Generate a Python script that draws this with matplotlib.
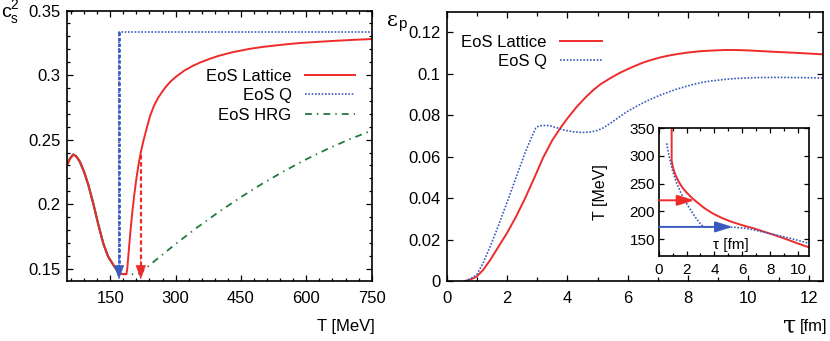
import matplotlib

matplotlib.use("Agg")

import matplotlib.pyplot as plt
from matplotlib.ticker import MultipleLocator

plt.rcParams["font.family"] = ["Liberation Sans", "DejaVu Sans"]
plt.rcParams["mathtext.fontset"] = "custom"
plt.rcParams["mathtext.rm"] = "Liberation Sans"

RED = "#ee2b2b"
BLUE = "#3a5bbd"
GREEN = "#1f7a3c"

# speed of sound squared vs T (shared hadronic part below Tc)
T_low = [50, 57, 65, 72, 80, 90, 100, 111, 122, 134, 145, 157, 165, 170]
cs_low = [0.2297, 0.235, 0.2385, 0.237, 0.233, 0.225, 0.2145, 0.2005, 0.185, 0.1695, 0.1595, 0.153, 0.149, 0.1466]

T_lat = [172, 180, 187, 189, 192, 196, 200, 205, 210, 215, 220, 226, 233, 241, 250, 260, 270, 279,
         290, 300, 320, 340, 356, 380, 400, 432, 470, 500, 550, 585, 630, 670, 710, 750]
cs_lat = [0.1462, 0.1457, 0.1457, 0.150, 0.162, 0.178, 0.192, 0.207, 0.220, 0.231, 0.240, 0.249,
          0.258, 0.268, 0.276, 0.2825, 0.2875, 0.2915, 0.2955, 0.2985, 0.3035, 0.3072, 0.3097,
          0.3128, 0.3150, 0.3178, 0.3203, 0.3218, 0.3237, 0.3248, 0.3258, 0.3266, 0.3273, 0.3279]

T_hrg = [172, 190, 210, 216, 222, 250, 300, 350, 400, 450, 500, 550, 600, 650, 700, 750]
cs_hrg = [0.1462, 0.1457, 0.1458, 0.1462, 0.1475, 0.1555, 0.1692, 0.1821, 0.1942, 0.2055, 0.2161,
          0.2258, 0.2348, 0.2430, 0.2504, 0.2570]

T_q = [170, 170, 750]
cs_q = [0.1466, 0.3333, 0.3333]

# arrows: (T, top, tip)
arrow_q = (170, 0.3333, 0.1417)
arrow_lat = (220, 0.238, 0.1417)

# momentum anisotropy vs tau
tau_lat = [0.61, 0.8, 0.99, 1.2, 1.44, 1.7, 2.0, 2.3, 2.6, 2.9, 3.2, 3.5, 3.76, 4.0, 4.31, 4.6,
           4.86, 5.1, 5.41, 5.7, 5.97, 6.25, 6.52, 6.8, 7.07, 7.35, 7.62, 8.0, 8.4, 8.73, 9.2, 9.61,
           10.0, 10.38, 10.9, 11.49, 12.0, 12.48]
eps_lat = [0.0, 0.0008, 0.0021, 0.0052, 0.0101, 0.0162, 0.0232, 0.0311, 0.0400, 0.0497, 0.0597,
           0.0680, 0.0737, 0.0785, 0.0841, 0.0886, 0.0922, 0.0950, 0.0978, 0.1002, 0.1021, 0.1039,
           0.1055, 0.1068, 0.1079, 0.1088, 0.1095, 0.1103, 0.1109, 0.1112, 0.1115, 0.1115, 0.1113,
           0.1110, 0.1106, 0.1102, 0.1098, 0.1094]

tau_q = [0.61, 0.8, 0.99, 1.2, 1.44, 1.7, 2.0, 2.3, 2.6, 2.8, 2.95, 3.05, 3.2, 3.4, 3.65, 3.9, 4.2,
         4.5, 4.75, 5.0, 5.2, 5.41, 5.7, 5.97, 6.25, 6.52, 6.8, 7.07, 7.35, 7.62, 7.9, 8.17, 8.45,
         8.73, 9.2, 9.61, 10.3, 10.94, 11.7, 12.48]
eps_q = [0.0, 0.0012, 0.0029, 0.0085, 0.0166, 0.0262, 0.0380, 0.0500, 0.0620, 0.0690, 0.0738,
         0.0748, 0.0751, 0.0750, 0.0740, 0.0728, 0.0720, 0.0717, 0.0719, 0.0727, 0.0740, 0.0760,
         0.0790, 0.0817, 0.0840, 0.0861, 0.0880, 0.0897, 0.0912, 0.0926, 0.0938, 0.0949, 0.0958,
         0.0965, 0.0973, 0.0978, 0.0982, 0.0983, 0.0982, 0.0980]

# inset: temperature vs tau
tin_lat = [0.93, 0.93, 1.0, 1.1, 1.25, 1.45, 1.7, 2.0, 2.4, 2.8, 3.3, 3.9, 4.5, 5.2, 6.0, 6.8, 7.6,
           8.4, 9.2, 10.0, 10.81]
Tin_lat = [350, 292, 282, 273, 263, 253, 243, 234, 224, 215.5, 205.5, 196, 188.5, 181.5, 175,
           169.5, 163, 156.5, 149.5, 142, 134.9]
tin_q = [0.57, 0.7, 0.81, 1.0, 1.29, 1.6, 2.0, 2.35, 2.73, 3.0, 3.2, 3.4, 5.4, 6.3, 7.2, 8.23, 9.5,
         10.81]
Tin_q = [322.9, 305, 292.8, 273, 251, 233, 214.5, 200, 186, 177.5, 172, 171.5, 171.3, 169.5,
         164.5, 158.5, 151, 142.2]
inset_arrow_lat = (220, 2.56)
inset_arrow_q = (172, 5.31)

W, H = 830, 341


def style(ax, fs, xpad, ypad, maj=4.0, mnr=2.2):
    for s in ax.spines.values():
        s.set_linewidth(1.2)
    ax.tick_params(which="both", direction="in", top=True, right=True, width=0.9, labelsize=fs)
    ax.tick_params(which="major", length=maj)
    ax.tick_params(which="minor", length=mnr)
    ax.tick_params(axis="x", pad=xpad)
    ax.tick_params(axis="y", pad=ypad)


def head(ax, xy, xytext, color, hl, hw, ms=10):
    ax.annotate("", xy=xy, xytext=xytext,
                arrowprops=dict(arrowstyle=f"-|>,head_length={hl},head_width={hw}",
                                color=color, lw=0.3, shrinkA=0, shrinkB=0, mutation_scale=ms))


fig = plt.figure(figsize=(W / 100, H / 100), dpi=100)

# ---- left panel
ax1 = fig.add_axes([66.7 / W, 1 - 281 / H, 305 / W, 270.5 / H])
ax1.plot(T_q, cs_q, color=BLUE, lw=1.2, ls=(0, (1, 1)), label="EoS Q")
ax1.plot(T_hrg, cs_hrg, color=GREEN, lw=1.3, ls=(0, (3.8, 2.8, 0.8, 2.8)), label="EoS HRG")
ax1.plot(T_low, cs_low, color=GREEN, lw=1.6)
ax1.plot(T_low, cs_low, color=BLUE, lw=1.2, ls=(0, (1, 1)))
ax1.plot(T_low + T_lat, cs_low + cs_lat, color=RED, lw=1.4, label="EoS Lattice")

x, top, tip = arrow_q
ax1.plot([x, x], [top, tip + 0.008], color=BLUE, lw=2.0, ls=(0, (1.2, 0.8)))
head(ax1, (x, tip), (x, tip + 0.016), BLUE, 0.75, 0.27, ms=13)
x, top, tip = arrow_lat
ax1.plot([x, x], [top, tip + 0.008], color=RED, lw=1.6, ls=(0, (2, 1.2)))
head(ax1, (x, tip), (x, tip + 0.016), RED, 0.75, 0.27, ms=13)

ax1.set_xlim(50, 750)
ax1.set_ylim(0.1405, 0.35)
ax1.xaxis.set_major_locator(MultipleLocator(150))
ax1.xaxis.set_minor_locator(MultipleLocator(30))
ax1.yaxis.set_major_locator(MultipleLocator(0.05))
ax1.yaxis.set_minor_locator(MultipleLocator(0.01))
ax1.set_yticks([0.15, 0.2, 0.25, 0.3, 0.35])
ax1.set_yticklabels(["0.15", "0.2", "0.25", "0.3", "0.35"])
style(ax1, 12, 7.5, 4.3)

h, l = ax1.get_legend_handles_labels()
order = [2, 0, 1]
ax1.legend([h[i] for i in order], [l[i] for i in order], loc="upper right",
           bbox_to_anchor=(0.945, 0.785), frameon=False, markerfirst=False, fontsize=12,
           handlelength=3.0, handletextpad=0.8, labelspacing=0.27, borderpad=0, borderaxespad=0)

# ---- right panel
ax2 = fig.add_axes([446.7 / W, 1 - 281 / H, 376.3 / W, 269.3 / H])
ax2.plot(tau_lat, eps_lat, color=RED, lw=1.4, label="EoS Lattice")
ax2.plot(tau_q, eps_q, color=BLUE, lw=1.2, ls=(0, (1, 1)), label="EoS Q")
ax2.set_xlim(0, 12.47)
ax2.set_ylim(0, 0.13)
ax2.xaxis.set_major_locator(MultipleLocator(2))
ax2.xaxis.set_minor_locator(MultipleLocator(1))
ax2.set_yticks([0, 0.02, 0.04, 0.06, 0.08, 0.1, 0.12])
ax2.set_yticklabels(["0", "0.02", "0.04", "0.06", "0.08", "0.1", "0.12"])
style(ax2, 12, 7.5, 4.3, mnr=3.0)
ax2.legend(loc="upper right", bbox_to_anchor=(0.412, 0.913), frameon=False, markerfirst=False,
           fontsize=12, handlelength=2.5, handletextpad=0.8, labelspacing=0.22, borderpad=0,
           borderaxespad=0)

# ---- inset
ax3 = fig.add_axes([658.7 / W, 1 - 255.7 / H, 150.6 / W, 127.4 / H])
ax3.plot(tin_lat, Tin_lat, color=RED, lw=1.4)
ax3.plot(tin_q, Tin_q, color=BLUE, lw=1.2, ls=(0, (1, 1)))
for (Tv, tt), c in ((inset_arrow_lat, RED), (inset_arrow_q, BLUE)):
    ax3.annotate("", xy=(tt, Tv), xytext=(0, Tv),
                 arrowprops=dict(arrowstyle="-|>,head_length=0.8,head_width=0.25", color=c,
                                 lw=1.4, shrinkA=0, shrinkB=0, mutation_scale=13))
ax3.set_xlim(0, 10.81)
ax3.set_ylim(120, 350)
ax3.xaxis.set_major_locator(MultipleLocator(2))
ax3.xaxis.set_minor_locator(MultipleLocator(1))
ax3.set_yticks([150, 200, 250, 300, 350])
style(ax3, 11, 5.0, 2.7, maj=3.5, mnr=2.5)
ax3.text(0.48, 0.03, "τ [fm]", transform=ax3.transAxes, fontsize=11, ha="center", va="bottom")
fig.text(600 / W, 1 - 191.7 / H, "T [MeV]", rotation=90, fontsize=11.5, ha="center", va="center")

# ---- axis labels
fig.text(1 / W, 1 - 13 / H, r"$\mathrm{c}_\mathrm{s}^2$", fontsize=14, ha="left", va="center")
fig.text(375 / W, 1 - 326 / H, "T [MeV]", fontsize=12, ha="right", va="center")
fig.text(387 / W, 1 - 21 / H, "ε", family="DejaVu Serif", fontsize=15, ha="left", va="center")
fig.text(398 / W, 1 - 24 / H, "p", fontsize=11, ha="left", va="center")
fig.text(783 / W, 1 - 326 / H, "τ", family="DejaVu Serif", fontsize=17, ha="left", va="center")
fig.text(827 / W, 1 - 326 / H, "[fm]", fontsize=12, ha="right", va="center")

fig.savefig("out.png", dpi=100)
